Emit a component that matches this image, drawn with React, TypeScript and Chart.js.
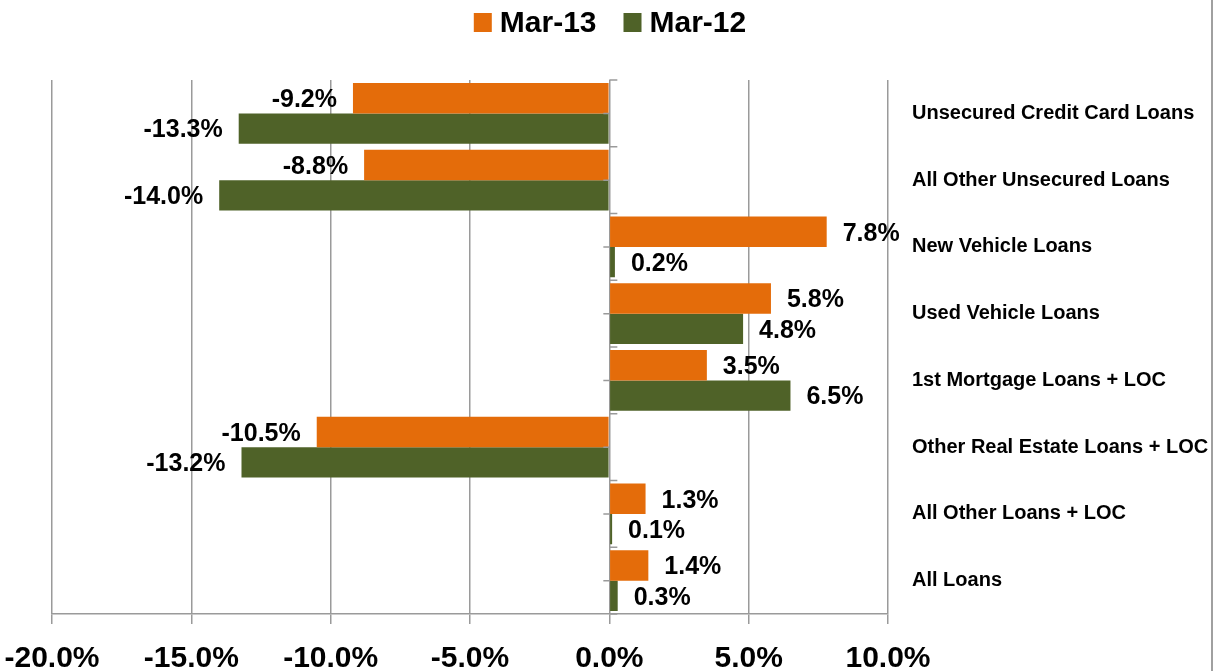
import React, { useEffect, useRef } from "react";
import { Chart, registerables } from "chart.js";

Chart.register(...registerables);

const CATEGORIES = [
  "Unsecured Credit Card Loans",
  "All Other Unsecured Loans",
  "New Vehicle Loans",
  "Used Vehicle Loans",
  "1st Mortgage Loans + LOC",
  "Other Real Estate Loans + LOC",
  "All Other Loans + LOC",
  "All Loans",
];
const SERIES_NAMES = ["Mar-13", "Mar-12"];
const MAR13 = [-9.2, -8.8, 7.8, 5.8, 3.5, -10.5, 1.3, 1.4];
const MAR12 = [-13.3, -14.0, 0.2, 4.8, 6.5, -13.2, 0.1, 0.3];
const X_MIN = -20;
const X_MAX = 10;
const X_STEP = 5;

const ORANGE = "#E46C0A";
const GREEN = "#4F6228";
const GRID = "#9a9a9a";
const FONT = '"Liberation Sans", Arial, sans-serif';

const fmt = (v: number) => v.toFixed(1) + "%";

const legendPlugin = {
  id: "customLegend",
  afterDraw(chart: any) {
    const ctx = chart.ctx;
    ctx.save();
    ctx.font = `bold 30px ${FONT}`;
    ctx.textBaseline = "middle";
    ctx.textAlign = "left";
    const box = 18;
    const gapBoxText = 8;
    const gapItems = 27;
    const items = chart.data.datasets.map((ds: any) => ({
      label: ds.label,
      color: ds.backgroundColor,
      w: ctx.measureText(ds.label).width,
    }));
    let total = 0;
    items.forEach((it: any, i: number) => {
      total += box + gapBoxText + it.w + (i < items.length - 1 ? gapItems : 0);
    });
    let x = chart.width / 2 - total / 2;
    const cy = 24;
    items.forEach((it: any) => {
      ctx.fillStyle = it.color;
      ctx.fillRect(x, 13, box, 19);
      ctx.fillStyle = "#000";
      ctx.fillText(it.label, x + box + gapBoxText, cy);
      x += box + gapBoxText + it.w + gapItems;
    });
    ctx.restore();
  },
};

const valueLabels = {
  id: "valueLabels",
  afterDatasetsDraw(chart: any) {
    const ctx = chart.ctx;
    ctx.save();
    ctx.font = `bold 25px ${FONT}`;
    ctx.fillStyle = "#000";
    ctx.textBaseline = "middle";
    chart.data.datasets.forEach((ds: any, i: number) => {
      const meta = chart.getDatasetMeta(i);
      meta.data.forEach((bar: any, j: number) => {
        const v = ds.data[j];
        const t = fmt(v);
        if (v < 0) {
          ctx.textAlign = "right";
          ctx.fillText(t, bar.x - 16, bar.y + 2);
        } else {
          ctx.textAlign = "left";
          ctx.fillText(t, bar.x + 16, bar.y + 2);
        }
      });
    });
    ctx.restore();
  },
};

const axisDecor = {
  id: "axisDecor",
  afterDatasetsDraw(chart: any) {
    const ctx = chart.ctx;
    const area = chart.chartArea;
    const x0 = chart.scales.x.getPixelForValue(0);
    const n = chart.data.labels.length;
    const step = (area.bottom - area.top) / n;
    ctx.save();
    ctx.strokeStyle = GRID;
    ctx.lineWidth = 1.5;
    ctx.beginPath();
    for (let k = 0; k <= n; k++) {
      const y = area.top + k * step;
      ctx.moveTo(x0, y);
      ctx.lineTo(x0 + 8, y);
    }
    for (let k = 0; k < n; k++) {
      const y = area.top + (k + 0.5) * step;
      ctx.moveTo(x0 - 6, y);
      ctx.lineTo(x0, y);
    }
    ctx.stroke();
    // outer chart border on the right
    ctx.lineWidth = 2;
    ctx.strokeStyle = "#a0a0a0";
    ctx.beginPath();
    ctx.moveTo(1212, 0);
    ctx.lineTo(1212, chart.height);
    ctx.stroke();
    ctx.restore();
  },
};

export default function App() {
  const ref = useRef<HTMLCanvasElement | null>(null);

  useEffect(() => {
    if (!ref.current) return;
    const chart = new Chart(ref.current, {
      type: "bar",
      data: {
        labels: CATEGORIES,
        datasets: [
          {
            label: SERIES_NAMES[0],
            data: MAR13,
            backgroundColor: ORANGE,
            barPercentage: 1,
            categoryPercentage: 0.91,
          },
          {
            label: SERIES_NAMES[1],
            data: MAR12,
            backgroundColor: GREEN,
            barPercentage: 1,
            categoryPercentage: 0.91,
          },
        ],
      },
      options: {
        indexAxis: "y",
        responsive: false,
        animation: false,
        layout: { padding: { top: 80, left: 52, right: 0, bottom: 0 } },
        plugins: {
          legend: { display: false },
          tooltip: { enabled: false },
        },
        scales: {
          x: {
            type: "linear",
            min: X_MIN,
            max: X_MAX,
            ticks: {
              stepSize: X_STEP,
              callback: (v: any) => fmt(Number(v)),
              color: "#000",
              font: { family: FONT, size: 30, weight: "bold" },
              padding: 17,
              maxRotation: 0,
            },
            grid: {
              color: GRID,
              lineWidth: 1.5,
              tickLength: 10,
              drawTicks: true,
            },
            border: { display: true, color: GRID, width: 1.5 },
            afterFit: (s: any) => {
              s.height = 57;
              s.paddingLeft = 0;
              s.paddingRight = 0;
            },
          },
          y: {
            type: "category",
            position: "right",
            offset: true,
            grid: { display: false, drawTicks: false },
            border: { display: false },
            ticks: {
              color: "#000",
              font: { family: FONT, size: 20, weight: "bold" },
              padding: 24,
              crossAlign: "near",
            },
            afterFit: (s: any) => {
              s.width = 332;
              s.paddingTop = 0;
              s.paddingBottom = 0;
            },
          },
        },
      },
      plugins: [valueLabels, axisDecor, legendPlugin],
    } as any);
    return () => chart.destroy();
  }, []);

  return (
    <div style={{ position: "absolute", left: 0, top: 0, width: 1220, height: 671, background: "#fff" }}>
      <canvas ref={ref} width={1220} height={671} style={{ display: "block" }} />
    </div>
  );
}
